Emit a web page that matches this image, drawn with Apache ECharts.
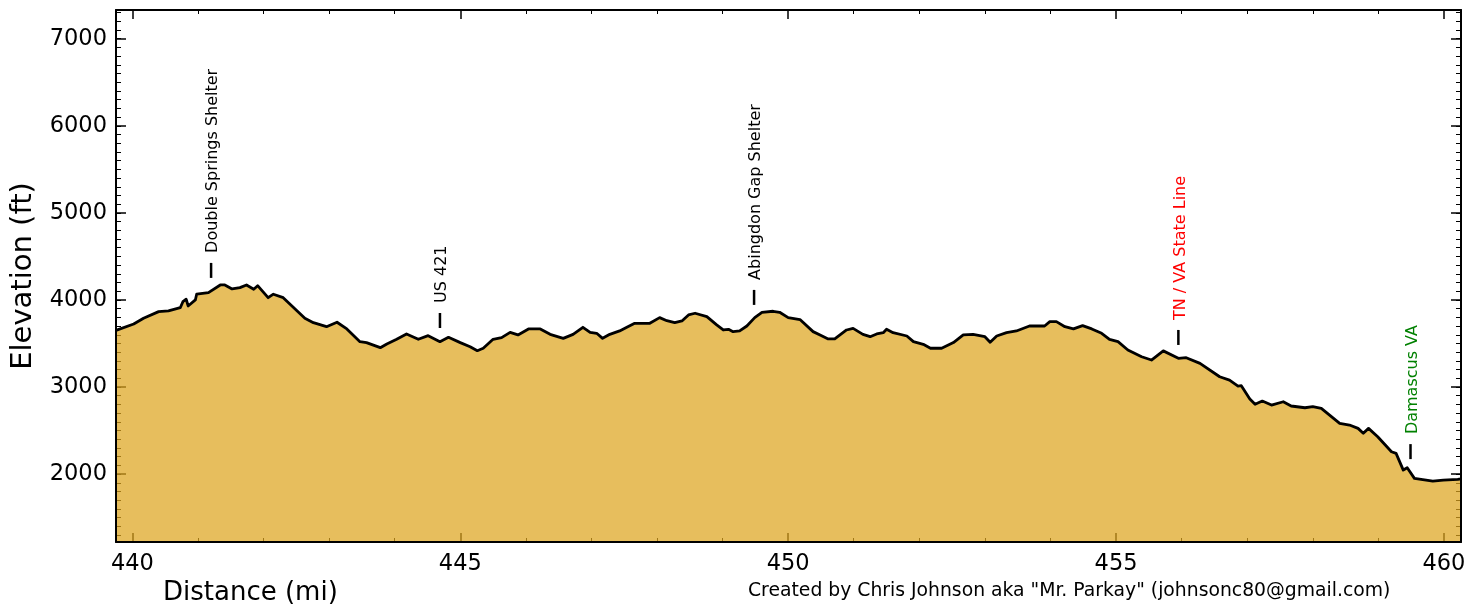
<!DOCTYPE html>
<html>
<head>
<meta charset="utf-8">
<title>Elevation profile</title>
<script src="https://cdn.jsdelivr.net/npm/echarts@6/dist/echarts.min.js"></script>
<style>
  html, body { margin: 0; padding: 0; background: #fff; }
  #chart { width: 1469px; height: 610px; }
</style>
</head>
<body>
<div id="chart"></div>
<script>
'use strict';

// trail profile
var distance = [439.75, 440.02, 440.17, 440.40, 440.55, 440.73, 440.77, 440.82, 440.85, 440.96, 440.98, 441.16, 441.34, 441.41, 441.52, 441.64, 441.74, 441.85, 441.91, 442.07, 442.15, 442.30, 442.63, 442.76, 442.96, 443.12, 443.27, 443.47, 443.57, 443.78, 443.88, 444.03, 444.18, 444.36, 444.51, 444.69, 444.82, 445.00, 445.15, 445.26, 445.35, 445.50, 445.63, 445.76, 445.88, 446.04, 446.22, 446.37, 446.57, 446.72, 446.87, 446.98, 447.08, 447.17, 447.28, 447.43, 447.54, 447.66, 447.89, 448.04, 448.15, 448.27, 448.38, 448.48, 448.58, 448.76, 448.91, 449.01, 449.09, 449.16, 449.26, 449.37, 449.49, 449.60, 449.77, 449.87, 450.00, 450.18, 450.38, 450.51, 450.61, 450.71, 450.89, 450.99, 451.14, 451.25, 451.35, 451.45, 451.50, 451.60, 451.81, 451.91, 452.06, 452.17, 452.34, 452.37, 452.52, 452.67, 452.82, 453.00, 453.08, 453.18, 453.33, 453.48, 453.68, 453.91, 453.99, 454.09, 454.22, 454.35, 454.49, 454.63, 454.78, 454.90, 455.03, 455.18, 455.39, 455.54, 455.72, 455.95, 456.07, 456.28, 456.58, 456.73, 456.86, 456.91, 457.04, 457.12, 457.23, 457.37, 457.55, 457.67, 457.88, 458.00, 458.13, 458.41, 458.56, 458.69, 458.77, 458.85, 458.99, 459.20, 459.27, 459.38, 459.44, 459.55, 459.83, 459.99, 460.21, 460.26];
var elevation = [3650, 3724, 3790, 3866, 3874, 3911, 3980, 4008, 3931, 4000, 4066, 4084, 4172, 4172, 4126, 4141, 4172, 4123, 4164, 4026, 4066, 4026, 3790, 3739, 3693, 3744, 3667, 3521, 3510, 3452, 3494, 3548, 3609, 3548, 3590, 3521, 3571, 3510, 3463, 3417, 3445, 3548, 3567, 3628, 3598, 3667, 3667, 3605, 3559, 3605, 3686, 3628, 3617, 3559, 3605, 3644, 3686, 3732, 3732, 3797, 3762, 3739, 3759, 3828, 3847, 3808, 3713, 3655, 3663, 3636, 3644, 3701, 3797, 3858, 3870, 3858, 3797, 3775, 3636, 3590, 3552, 3552, 3655, 3674, 3605, 3578, 3609, 3624, 3663, 3624, 3586, 3521, 3490, 3445, 3445, 3425, 3510, 3598, 3605, 3578, 3514, 3586, 3624, 3644, 3701, 3701, 3751, 3751, 3693, 3667, 3705, 3667, 3617, 3548, 3521, 3425, 3348, 3310, 3415, 3330, 3337, 3272, 3118, 3080, 3011, 3015, 2862, 2801, 2839, 2793, 2831, 2782, 2762, 2774, 2755, 2583, 2563, 2525, 2468, 2525, 2429, 2256, 2238, 2046, 2072, 1951, 1920, 1931, 1939, 1945];

// landmarks: marker foot position
var landmarkNames = ['Double Springs Shelter', 'US 421', 'Abingdon Gap Shelter', 'TN / VA State Line', 'Damascus VA'];
var landmarkDist = [441.20, 444.69, 449.48, 455.95, 459.49];
var landmarkElev = [4253, 3678, 3943, 3483, 2172];

var xRange = [439.75, 460.26];
var yRange = [1220, 7330];

var FONT = 'DejaVu Sans';
var labelColor = { 'TN / VA State Line': '#ff0000', 'Damascus VA': '#008000' };

// plot frame in pixels
var frame = { left: 116, right: 1461, top: 10, bottom: 542 };

function px(x) {
  return frame.left + (x - xRange[0]) / (xRange[1] - xRange[0]) * (frame.right - frame.left);
}
function py(y) {
  return frame.bottom - (y - yRange[0]) / (yRange[1] - yRange[0]) * (frame.bottom - frame.top);
}

var profile = distance.map(function (d, i) { return [d, elevation[i]]; });
var landmarks = landmarkDist.map(function (d, i) { return [d, landmarkElev[i], landmarkNames[i]]; });

var frameLine = { show: true, onZero: false, lineStyle: { color: '#000', width: 2 } };

var chart = echarts.init(document.getElementById('chart'), null, { renderer: 'canvas' });

chart.setOption({
  animation: false,
  backgroundColor: '#fff',
  textStyle: { fontFamily: FONT },
  grid: [
    // data
    { left: frame.left, top: frame.top, width: frame.right - frame.left, height: frame.bottom - frame.top },
    // x ticks 440..460
    { left: px(440), top: frame.top, width: px(460) - px(440), height: frame.bottom - frame.top },
    // y major ticks 2000..7000
    { left: frame.left, top: py(7000), width: frame.right - frame.left, height: py(2000) - py(7000) },
    // y minor ticks 1300..7300
    { left: frame.left, top: py(7300), width: frame.right - frame.left, height: py(1300) - py(7300) },
  ],
  xAxis: [
    { gridIndex: 0, type: 'value', min: xRange[0], max: xRange[1], z: 5, axisLine: frameLine, axisTick: { show: false }, axisLabel: { show: false }, splitLine: { show: false } },
    { gridIndex: 0, type: 'value', position: 'top', min: xRange[0], max: xRange[1], z: 5, axisLine: frameLine, axisTick: { show: false }, axisLabel: { show: false }, splitLine: { show: false } },
    {
      gridIndex: 1, type: 'value', min: 440, max: 460, interval: 5,
      axisLine: { show: false },
      axisTick: { inside: true, length: 9, lineStyle: { color: '#000', width: 1.5 } },
      minorTick: { show: true, splitNumber: 5, length: 4, lineStyle: { color: '#000', width: 1 } },
      axisLabel: { fontFamily: FONT, fontSize: 22.5, color: '#000', margin: 11 },
      splitLine: { show: false },
    },
    {
      gridIndex: 1, type: 'value', position: 'top', min: 440, max: 460, interval: 5,
      axisLine: { show: false },
      axisTick: { inside: true, length: 9, lineStyle: { color: '#000', width: 1.5 } },
      minorTick: { show: true, splitNumber: 5, length: 4, lineStyle: { color: '#000', width: 1 } },
      axisLabel: { show: false },
      splitLine: { show: false },
    },
    { gridIndex: 2, type: 'value', show: false, min: 0, max: 1 },
    { gridIndex: 3, type: 'value', show: false, min: 0, max: 1 },
  ],
  yAxis: [
    {
      gridIndex: 0, type: 'value', min: yRange[0], max: yRange[1], z: 5,
      axisLine: frameLine, axisTick: { show: false }, axisLabel: { show: false }, splitLine: { show: false },
      name: 'Elevation (ft)', nameLocation: 'middle', nameGap: 78,
      nameTextStyle: { fontFamily: FONT, fontSize: 29, color: '#000' },
    },
    { gridIndex: 0, type: 'value', position: 'right', min: yRange[0], max: yRange[1], z: 5, axisLine: frameLine, axisTick: { show: false }, axisLabel: { show: false }, splitLine: { show: false } },
    { gridIndex: 1, type: 'value', show: false, min: 0, max: 1 },
    {
      gridIndex: 2, type: 'value', min: 2000, max: 7000, interval: 1000,
      axisLine: { show: false },
      axisTick: { inside: true, length: 10, lineStyle: { color: '#000', width: 1.5 } },
      axisLabel: { fontFamily: FONT, fontSize: 22.5, color: '#000', margin: 9, formatter: function (v) { return String(v); } },
      splitLine: { show: false },
    },
    {
      gridIndex: 2, type: 'value', position: 'right', min: 2000, max: 7000, interval: 1000,
      axisLine: { show: false },
      axisTick: { inside: true, length: 10, lineStyle: { color: '#000', width: 1.5 } },
      axisLabel: { show: false },
      splitLine: { show: false },
    },
    {
      gridIndex: 3, type: 'value', min: 1300, max: 7300, interval: 100,
      axisLine: { show: false },
      axisTick: { inside: true, length: 5, lineStyle: { color: '#000', width: 1 } },
      axisLabel: { show: false },
      splitLine: { show: false },
    },
    {
      gridIndex: 3, type: 'value', position: 'right', min: 1300, max: 7300, interval: 100,
      axisLine: { show: false },
      axisTick: { inside: true, length: 5, lineStyle: { color: '#000', width: 1 } },
      axisLabel: { show: false },
      splitLine: { show: false },
    },
  ],
  graphic: [
    {
      type: 'text', left: 163, top: 580,
      style: { text: 'Distance (mi)', font: '26px "DejaVu Sans"', fill: '#000' },
    },
    {
      type: 'text', left: 748, top: 582,
      style: { text: 'Created by Chris Johnson aka "Mr. Parkay" (johnsonc80@gmail.com)', font: '18.8px "DejaVu Sans"', fill: '#000' },
    },
  ],
  series: [
    {
      type: 'line',
      xAxisIndex: 0,
      yAxisIndex: 0,
      data: profile,
      showSymbol: false,
      symbol: 'none',
      smooth: false,
      lineStyle: { color: '#000', width: 2.8, join: 'round' },
      areaStyle: { color: 'rgba(222,165,30,0.72)', origin: 'start', opacity: 1 },
      z: 3,
    },
    {
      type: 'custom',
      xAxisIndex: 0,
      yAxisIndex: 0,
      data: landmarks,
      z: 4,
      renderItem: function (params, api) {
        var p = api.coord([api.value(0), api.value(1)]);
        var name = landmarks[params.dataIndex][2];
        return {
          type: 'group',
          children: [
            {
              type: 'line',
              shape: { x1: p[0], y1: p[1], x2: p[0], y2: p[1] - 15 },
              style: { stroke: '#000', lineWidth: 2.5 },
            },
            {
              type: 'text',
              x: p[0] + 2,
              y: p[1] - 25,
              rotation: Math.PI / 2,
              style: {
                text: name,
                font: '16px "DejaVu Sans"',
                fill: labelColor[name] || '#000',
                align: 'left',
                verticalAlign: 'middle',
              },
            },
          ],
        };
      },
    },
  ],
});
</script>
</body>
</html>
